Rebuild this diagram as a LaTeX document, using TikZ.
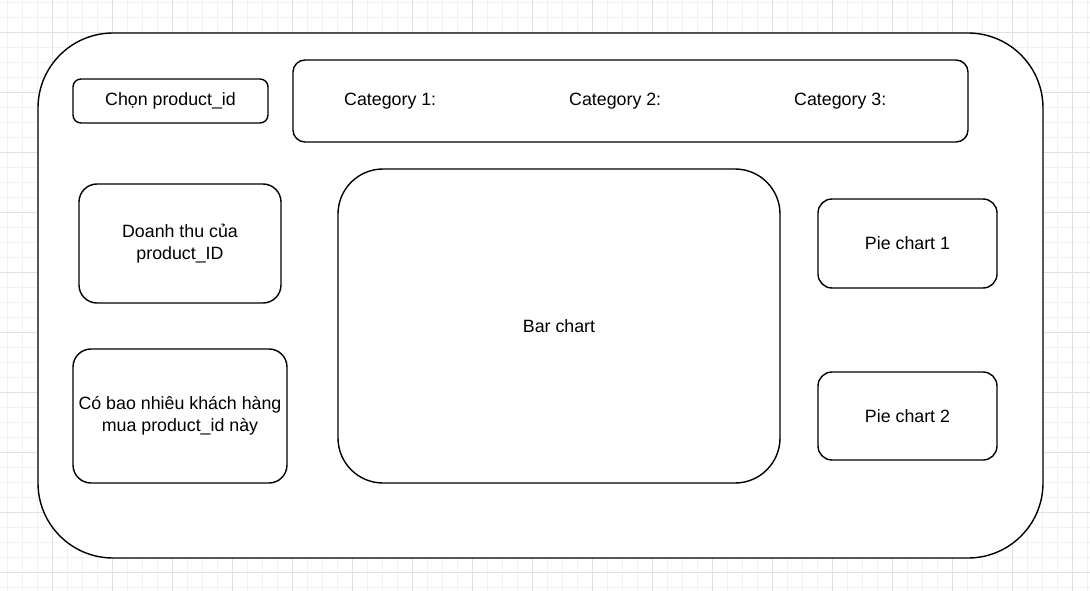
\documentclass[tikz,border=0pt]{standalone}
\usepackage{tikz}
\usepackage{fontspec}
\setmainfont{Liberation Sans}
\usetikzlibrary{positioning}

\tikzset{
  panel/.style={draw, line width=1.4pt, fill=white, rounded corners=#1, inner sep=0pt, align=center},
  gridminor/.style={draw=black!5, line width=0.8pt},
  gridmajor/.style={draw=black!12, line width=0.8pt}
}

\begin{document}
\begin{tikzpicture}[x=1pt, y=-1pt, font=\fontsize{17.8}{22}\selectfont]

\useasboundingbox[fill=white] (0, 0) rectangle (1090, 591);

% background grid
\foreach \x in {7, 22, ..., 1090} \draw[gridminor] (\x, 0)--(\x, 591);
\foreach \y in {2, 17, ..., 591} \draw[gridminor] (0, \y)--(1090, \y);
\foreach \x in {52, 112, ..., 1090} \draw[gridmajor] (\x, 0)--(\x, 591);
\foreach \y in {32, 92, ..., 591} \draw[gridmajor] (0, \y)--(1090, \y);

\node[panel=75pt, minimum width=1005pt, minimum height=525pt] (frame) at (540.5, 295.5) {};

\node[panel=8pt, minimum width=195pt, minimum height=44pt] (pick) at (170.5, 101) {Chọn product\_id};

\node[panel=12pt, minimum width=675pt, minimum height=82pt] (cats) at (630.5, 101) {};
\node[anchor=west, inner sep=0pt] (cat1) at (344, 101.5) {Category 1:};
\node[anchor=west, inner sep=0pt] (cat2) at (569, 101.5) {Category 2:};
\node[anchor=west, inner sep=0pt] (cat3) at (794, 101.5) {Category 3:};

\node[panel=18pt, minimum width=202pt, minimum height=119pt] (revenue) at (180, 243.5) {Doanh thu của\\product\_ID};

\node[panel=18pt, minimum width=214pt, minimum height=134pt] (buyers) at (180, 416) {Có bao nhiêu khách hàng\\mua product\_id này};

\node[panel=45pt, minimum width=442pt, minimum height=314pt] (bar) at (559, 326) {Bar chart};

\node[panel=14pt, minimum width=179pt, minimum height=89pt] (pie1) at (907.5, 243.5) {Pie chart 1};

\node[panel=14pt, minimum width=179pt, minimum height=88pt] (pie2) at (907.5, 416) {Pie chart 2};

\end{tikzpicture}
\end{document}
